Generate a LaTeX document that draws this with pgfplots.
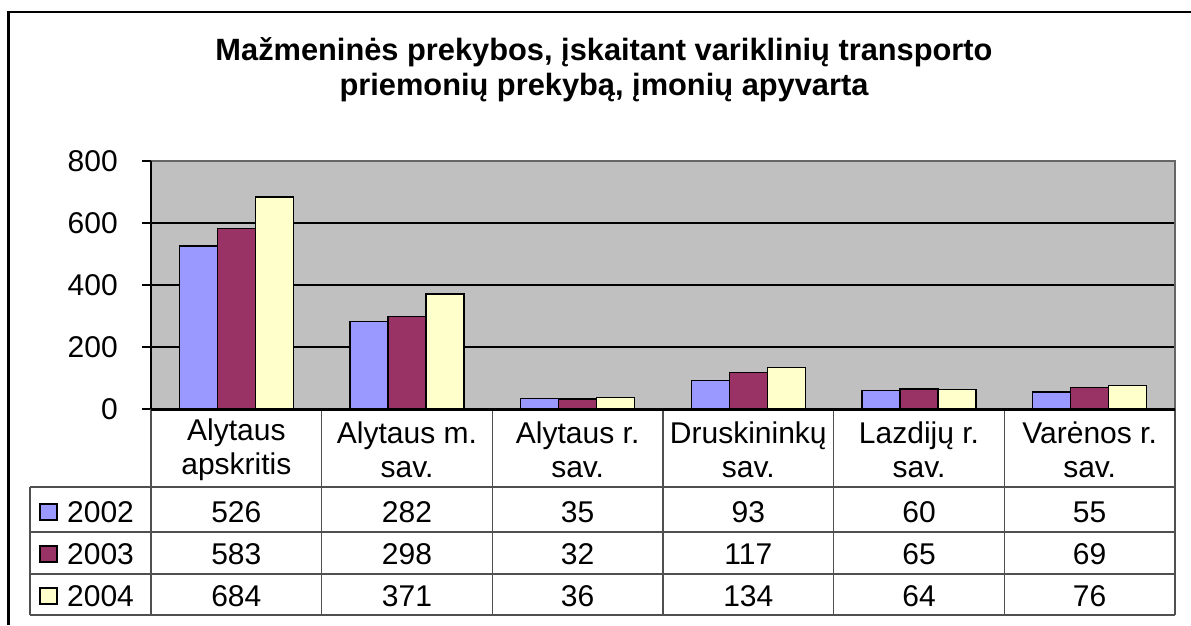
\documentclass[border=0pt]{standalone}
\usepackage{pgfplots}
\pgfplotsset{compat=1.18}
\usepackage{fontspec}
\setmainfont{Liberation Sans}
\definecolor{cA}{HTML}{9999FF}
\definecolor{cB}{HTML}{993366}
\definecolor{cC}{HTML}{FFFFCC}
\definecolor{plotgray}{HTML}{C0C0C0}
\definecolor{tabline}{HTML}{505050}
\newcommand\fs{\fontsize{30}{34}\selectfont}
\begin{document}
\begin{tikzpicture}[x=1pt,y=1pt]
\useasboundingbox (0,0) rectangle (1191,625);
\begin{axis}[
  at={(151pt,216pt)}, anchor=south west,
  scale only axis, width=1024pt, height=248pt,
  xmin=0, xmax=6, ymin=0, ymax=800,
  ytick={0,200,400,600,800}, ytick pos=left,
  xtick=\empty,
  /pgf/number format/assume math mode=true,
  ymajorgrids, grid style={black, line width=1.2pt},
  axis background/.style={fill=plotgray},
  axis line style={draw=none},
  ybar=0pt, bar width=38pt,
  tick align=outside, major tick length=9pt,
  ytick style={black, line width=1.2pt},
  yticklabel style={font=\fs, anchor=east, inner sep=0pt, xshift=-24pt},
  clip=false,
]
\addplot[fill=cA, draw=black, line width=1.3pt] coordinates {(0.5,526) (1.5,282) (2.5,35) (3.5,93) (4.5,60) (5.5,55)};
\addplot[fill=cB, draw=black, line width=1.3pt] coordinates {(0.5,583) (1.5,298) (2.5,32) (3.5,117) (4.5,65) (5.5,69)};
\addplot[fill=cC, draw=black, line width=1.3pt] coordinates {(0.5,684) (1.5,371) (2.5,36) (3.5,134) (4.5,64) (5.5,76)};
\end{axis}
% plot area borders
\draw[gray!80!black, line width=2pt] (151,{625-161}) -- (1175,{625-161}) -- (1175,{625-409});
\draw[black, line width=2pt] (151,{625-161}) -- (151,{625-409});
% table grid
\foreach \k in {1,...,6} {
  \draw[tabline, line width=1.5pt] ({151+\k*170.667},{625-409}) -- ({151+\k*170.667},{625-615});
}
\draw[tabline, line width=1.5pt] (151,{625-409}) -- (151,{625-615});
\foreach \yy in {487,532,574,615} {
  \draw[tabline, line width=1.5pt] (30,{625-\yy}) -- (1175,{625-\yy});
}
\draw[tabline, line width=1.5pt] (30,{625-487}) -- (30,{625-615});
\draw[black, line width=3pt] (151,{625-409}) -- (1175,{625-409});
% category labels
\foreach \lab [count=\i from 0] in {{Alytaus\\apskritis},{Alytaus m.\\sav.},{Alytaus r.\\sav.},{Druskininkų\\sav.},{Lazdijų r.\\sav.},{Varėnos r.\\sav.}} {
  \node[font=\fs, align=center, inner sep=0pt] at ({151+(\i+0.5)*170.667},{625-450}) {\lab};
}
% values
\foreach \v [count=\i from 0] in {526,282,35,93,60,55} {
  \node[font=\fs, inner sep=0pt] at ({151+(\i+0.5)*170.667},{625-512}) {\v};
}
\foreach \v [count=\i from 0] in {583,298,32,117,65,69} {
  \node[font=\fs, inner sep=0pt] at ({151+(\i+0.5)*170.667},{625-554}) {\v};
}
\foreach \v [count=\i from 0] in {684,371,36,134,64,76} {
  \node[font=\fs, inner sep=0pt] at ({151+(\i+0.5)*170.667},{625-596}) {\v};
}
% legend keys
\foreach \c/\yr/\yy in {cA/2002/512, cB/2003/554, cC/2004/596} {
  \draw[fill=\c, draw=black, line width=1.2pt] (40,{625-\yy-8}) rectangle (57,{625-\yy+8});
  \node[font=\fs, anchor=west, inner sep=0pt] at (67,{625-\yy}) {\yr};
}
% title
\node[font=\fontsize{30.8}{34}\selectfont\bfseries, inner sep=0pt] at (604,{625-52}) {Mažmeninės prekybos, įskaitant variklinių transporto};
\node[font=\fontsize{30.8}{34}\selectfont\bfseries, inner sep=0pt] at (604,{625-88}) {priemonių prekybą, įmonių apyvarta};
% outer frame
\draw[black, line width=2.5pt] (8.5,0) -- (8.5,{625-12}) -- (1191,{625-12});
\end{tikzpicture}
\end{document}
